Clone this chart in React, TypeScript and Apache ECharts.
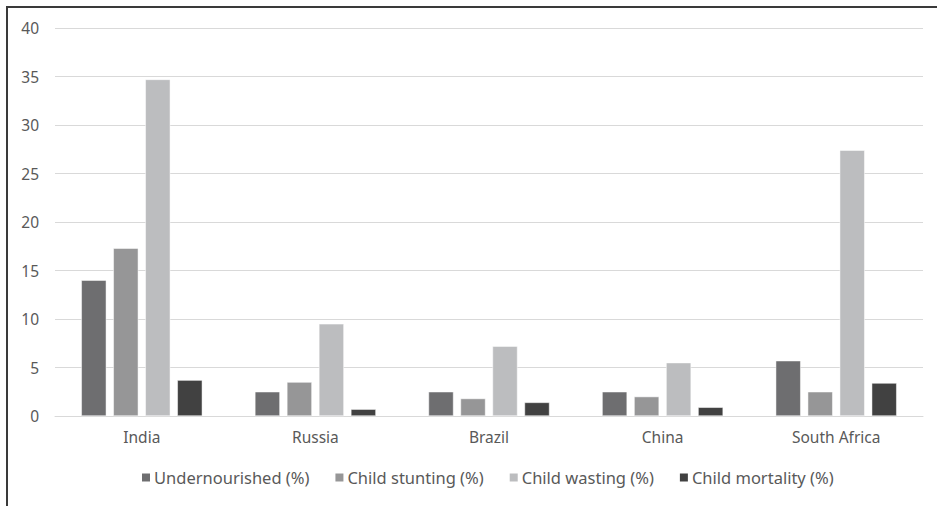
import React, { useEffect, useRef } from "react";
import * as echarts from "echarts";

const categories = ["India", "Russia", "Brazil", "China", "South Africa"];
const undernourished = [14.0, 2.5, 2.5, 2.5, 5.7];
const stunting = [17.3, 3.5, 1.8, 2.0, 2.5];
const wasting = [34.7, 9.5, 7.2, 5.5, 27.4];
const mortality = [3.7, 0.7, 1.4, 0.9, 3.4];
const seriesNames = [
  "Undernourished (%)",
  "Child stunting (%)",
  "Child wasting (%)",
  "Child mortality (%)",
];
const seriesColors = ["#6e6e70", "#969697", "#bcbdbf", "#414141"];

export default function App() {
  const ref = useRef<HTMLDivElement>(null);
  useEffect(() => {
    document.body.style.margin = "0";
    document.body.style.overflow = "hidden";
    const chart = echarts.init(ref.current!, undefined, { renderer: "svg" });
    const font = "'Noto Sans', 'Open Sans', sans-serif";
    const data = [undernourished, stunting, wasting, mortality];
    chart.setOption({
      animation: false,
      backgroundColor: "#ffffff",
      textStyle: { fontFamily: font },
      grid: { left: 55, right: 14, top: 28, bottom: 90 },
      legend: {
        bottom: 15,
        left: 135,
        itemWidth: 10,
        itemHeight: 10,
        itemGap: 24,
        icon: "rect",
        textStyle: { fontFamily: font, fontSize: 16.5, color: "#595959", padding: [0, 0, 0, -2] },
        data: seriesNames,
      },
      xAxis: {
        type: "category",
        data: categories,
        axisLine: { lineStyle: { color: "#d9d9d9", width: 1 } },
        axisTick: { show: false },
        axisLabel: { fontFamily: font, fontSize: 15.5, color: "#595959", margin: 13 },
      },
      yAxis: {
        type: "value",
        min: 0,
        max: 40,
        interval: 5,
        splitLine: { lineStyle: { color: "#d9d9d9", width: 1 } },
        axisLine: { show: false },
        axisTick: { show: false },
        axisLabel: { fontFamily: font, fontSize: 15.5, color: "#595959", margin: 16 },
      },
      series: data.map((d, i) => ({
        name: seriesNames[i],
        type: "bar",
        data: d,
        barWidth: 25,
        barGap: "28%",
        itemStyle: { color: seriesColors[i], borderColor: "#ffffff", borderWidth: 0.5 },
      })),
    });
    return () => chart.dispose();
  }, []);
  return (
    <div style={{ position: "relative", width: 937, height: 506, overflow: "hidden", background: "#fff" }}>
      <div ref={ref} style={{ position: "absolute", left: 0, top: 0, width: 937, height: 506 }} />
      <div
        style={{
          position: "absolute",
          left: 6,
          top: 6,
          width: 1000,
          height: 600,
          borderLeft: "2px solid #3a3a3a",
          borderTop: "2px solid #3a3a3a",
          pointerEvents: "none",
        }}
      />
    </div>
  );
}
